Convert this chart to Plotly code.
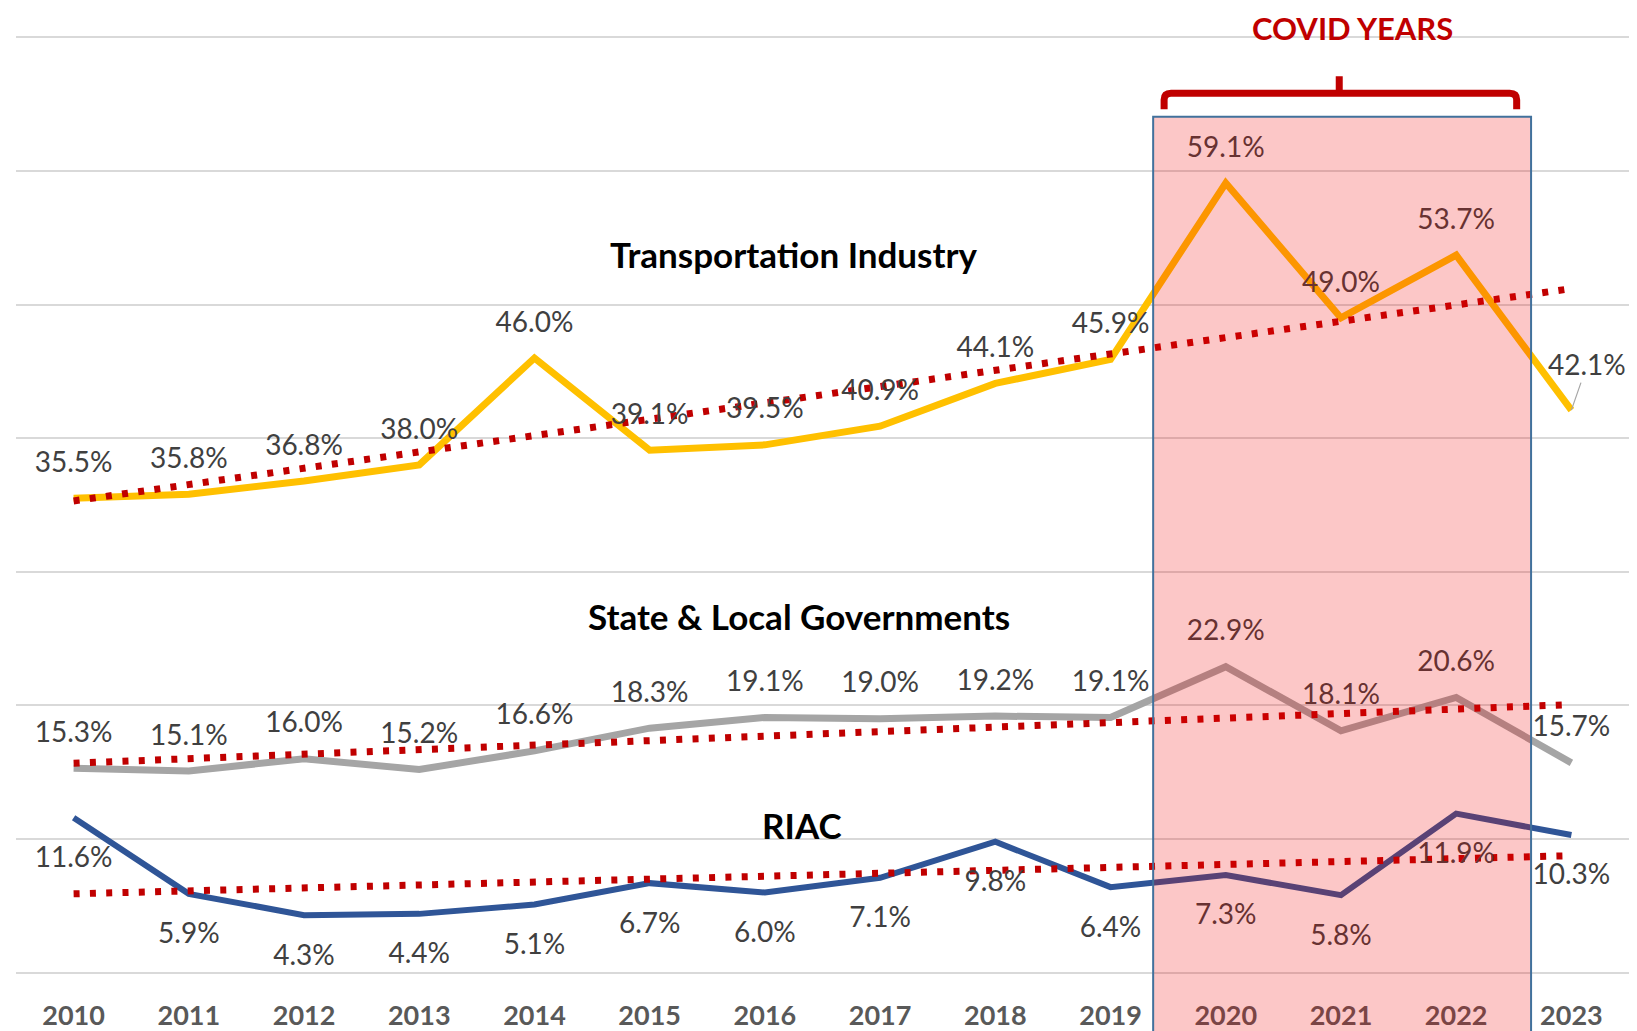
import numpy as np
import plotly.graph_objects as go

years = list(range(2010, 2024))
transport = [35.5, 35.8, 36.8, 38.0, 46.0, 39.1, 39.5, 40.9, 44.1, 45.9, 59.1, 49.0, 53.7, 42.1]
state_local = [15.3, 15.1, 16.0, 15.2, 16.6, 18.3, 19.1, 19.0, 19.2, 19.1, 22.9, 18.1, 20.6, 15.7]
riac = [11.6, 5.9, 4.3, 4.4, 5.1, 6.7, 6.0, 7.1, 9.8, 6.4, 7.3, 5.8, 11.9, 10.3]

series_names = ["Transportation Industry", "State & Local Governments", "RIAC"]
covid_years = [2020, 2021, 2022]

FONT = "Lato, 'Open Sans', sans-serif"
LABEL_GREY = "#404040"
TREND_RED = "#C00000"

# px per % is about 13.4 -> label offsets in data units
UP = 2.5
DOWN = 3.17

fig = go.Figure()

series = [
    (transport, "#FFC000", 7, UP),
    (state_local, "#A5A5A5", 7, UP),
    (riac, "#2F5597", 6, -DOWN),
]

for (vals, color, w, off), name in zip(series, series_names):
    fig.add_trace(go.Scatter(x=years, y=vals, mode="lines", name=name,
                             line=dict(color=color, width=w), showlegend=False))

# linear trendlines (same thing excel does)
for (vals, color, w, off), name in zip(series, series_names):
    slope, icpt = np.polyfit(years, vals, 1)
    ends = [years[0], years[-1]]
    fig.add_trace(go.Scatter(x=ends, y=[slope * e + icpt for e in ends], mode="lines",
                             line=dict(color=TREND_RED, width=7, dash="6px,10.3px"),
                             showlegend=False, hoverinfo="skip"))

# data labels as text traces so the covid box tints them
for (vals, color, w, off), name in zip(series, series_names):
    xs, ys, txt = [], [], []
    for yr, v in zip(years, vals):
        if vals is transport and yr == years[-1]:
            continue
        xs.append(yr)
        ys.append(v + off)
        txt.append(f"{v:.1f}%")
    fig.add_trace(go.Scatter(x=xs, y=ys, mode="text", text=txt, textposition="middle center",
                             textfont=dict(family=FONT, size=28, color=LABEL_GREY),
                             showlegend=False, hoverinfo="skip"))

# last transportation label sits off to the side with a leader line
fig.add_annotation(x=years[-1], y=transport[-1], text=f"{transport[-1]:.1f}%",
                   showarrow=True, arrowhead=0, arrowwidth=1.2, arrowcolor="#A6A6A6",
                   ax=16, ay=-46, font=dict(family=FONT, size=28, color=LABEL_GREY))

# series titles
for name, xx, yy in zip(series_names, [2016.25, 2016.3, 2016.32], [53.8, 26.7, 11.05]):
    fig.add_annotation(x=xx, y=yy, text=f"<b>{name}</b>", showarrow=False,
                       font=dict(family=FONT, size=35, color="black"))

# covid box
fig.add_shape(type="rect", xref="x", yref="paper",
              x0=covid_years[0] - 0.63, x1=covid_years[-1] + 0.65, y0=-0.1, y1=0.914,
              fillcolor="rgba(240,0,0,0.22)", line=dict(color="#41719C", width=2),
              layer="above")

# bracket over the box
bl, br, bm = covid_years[0] - 0.535, covid_years[-1] + 0.525, covid_years[1] - 0.015
yb, yt, ytick, yc = 0.922, 0.939, 0.957, 0.932
d = 0.06
path = (f"M {bl},{yb} L {bl},{yc} Q {bl},{yt} {bl + d},{yt} L {br - d},{yt} "
        f"Q {br},{yt} {br},{yc} L {br},{yb} M {bm},{yt} L {bm},{ytick}")
fig.add_shape(type="path", xref="x", yref="paper", path=path,
              line=dict(color=TREND_RED, width=7))

fig.add_annotation(x=covid_years[1] + 0.1, y=1.008, yref="paper", yanchor="middle",
                   text="<b>COVID YEARS</b>", showarrow=False, borderpad=0,
                   font=dict(family=FONT, size=31, color=TREND_RED))

# page body has an 8px margin, so pull the margins in to compensate
fig.update_layout(
    width=1637, height=1031,
    margin=dict(l=8, r=16, t=28, b=65),
    plot_bgcolor="white", paper_bgcolor="white",
    xaxis=dict(range=[2009.5, 2023.5], tickvals=years, ticktext=[f"<b>{y}</b>" for y in years],
               tickfont=dict(family=FONT, size=27, color="#595959"), showgrid=False,
               zeroline=False, showline=False, ticks="", ticklabelstandoff=23),
    yaxis=dict(range=[-0.1, 70.1], tickvals=[0, 10, 20, 30, 40, 50, 60, 70],
               showticklabels=False, gridcolor="#D9D9D9",
               gridwidth=2, zeroline=False, showline=False),
)

fig.write_html("out.html")
